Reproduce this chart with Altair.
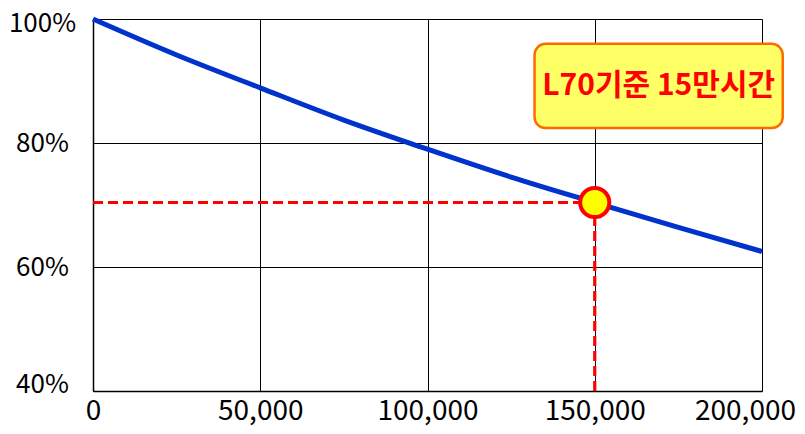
import altair as alt
import pandas as pd

# Lumen maintenance curve (hours vs. % of initial output)
hours = [0, 25000, 50000, 75000, 100000, 125000, 150000, 175000, 200000]
lumen = [100.0, 94.2, 88.9, 83.7, 79.0, 74.5, 70.4, 66.4, 62.5]

# L70 marker
l70_hours = 150000
l70_value = 70.4
y_floor = 40

# Annotation box (data coordinates) and its text
box_x = [132000]
box_x2 = [206200]
box_y = [96.0]
box_y2 = [82.4]
label_text = ["L70기준 15만시간"]
label_x = [169100]
label_y = [89.2]

x_ticks = [0, 50000, 100000, 150000, 200000]
y_ticks = [40, 60, 80, 100]

curve = pd.DataFrame({"hours": hours, "lumen": lumen})
hline = pd.DataFrame({"x": [0], "x2": [l70_hours], "y": [l70_value]})
vline = pd.DataFrame({"x": [l70_hours], "y": [y_floor], "y2": [l70_value]})
pt = pd.DataFrame({"x": [l70_hours], "y": [l70_value]})
box = pd.DataFrame({"x": box_x, "x2": box_x2, "y": box_y, "y2": box_y2})
lab = pd.DataFrame({"x": label_x, "y": label_y, "t": label_text})

xs = alt.Scale(domain=[0, 200000], nice=False)
ys = alt.Scale(domain=[40, 100], nice=False)

font = "Noto Sans CJK KR"

xaxis = alt.Axis(values=x_ticks, format=",d", title=None, ticks=False,
                 labelFontSize=28, labelFont=font, labelColor="#000000",
                 labelPadding=6, grid=True, gridColor="#000000", gridWidth=1,
                 domainColor="#000000", domainWidth=1.5, labelFlush=False,
                 labelOffset={"condition": {"test": "datum.value == 200000", "value": -17}, "value": 0})
yaxis = alt.Axis(values=y_ticks, labelExpr="datum.value + '%'", title=None, ticks=False,
                 labelFontSize=26, labelFont=font, labelColor="#000000",
                 labelAlign="center", labelPadding=51, grid=True, gridColor="#000000",
                 gridWidth=1, domainColor="#000000", domainWidth=1.5, labelFlush=False,
                 labelOffset={"condition": [{"test": "datum.value == 40", "value": -7},
                                            {"test": "datum.value == 100", "value": 4}],
                              "value": 0})

line = alt.Chart(curve).mark_line(color="#0033CC", strokeWidth=5, interpolate="monotone").encode(
    x=alt.X("hours:Q", scale=xs, axis=xaxis),
    y=alt.Y("lumen:Q", scale=ys, axis=yaxis),
)

h = alt.Chart(hline).mark_rule(color="#FF0000", strokeWidth=3.2, strokeDash=[10, 5]).encode(
    x=alt.X("x:Q", scale=xs), x2="x2:Q", y=alt.Y("y:Q", scale=ys)
)
v = alt.Chart(vline).mark_rule(color="#FF0000", strokeWidth=3.2, strokeDash=[10, 5]).encode(
    x=alt.X("x:Q", scale=xs), y=alt.Y("y:Q", scale=ys), y2="y2:Q"
)
dot = alt.Chart(pt).mark_point(filled=False, fill="#FFFF00", fillOpacity=1, stroke="#FF0000",
                               strokeWidth=4, size=850, opacity=1, shape="circle").encode(
    x=alt.X("x:Q", scale=xs), y=alt.Y("y:Q", scale=ys)
)
rect = alt.Chart(box).mark_rect(fill="#FFFF66", stroke="#FF6A00", strokeWidth=2.5,
                                cornerRadius=11, clip=False).encode(
    x=alt.X("x:Q", scale=xs), x2="x2:Q", y=alt.Y("y:Q", scale=ys), y2="y2:Q"
)
txt = alt.Chart(lab).mark_text(color="#FF0000", fontSize=30, fontWeight="bold", font=font,
                               align="center", baseline="middle", clip=False).encode(
    x=alt.X("x:Q", scale=xs), y=alt.Y("y:Q", scale=ys), text="t:N"
)

chart = alt.layer(line, h, v, dot, rect, txt).properties(
    width=669, height=372,
    autosize=alt.AutoSizeParams(type="none"),
    padding={"left": 85, "top": 11, "right": 35, "bottom": 35},
).configure_view(stroke="#000000", strokeWidth=1.5).configure(background="#FFFFFF")

chart.save("out.html", embed_options={"renderer": "svg", "actions": False})
